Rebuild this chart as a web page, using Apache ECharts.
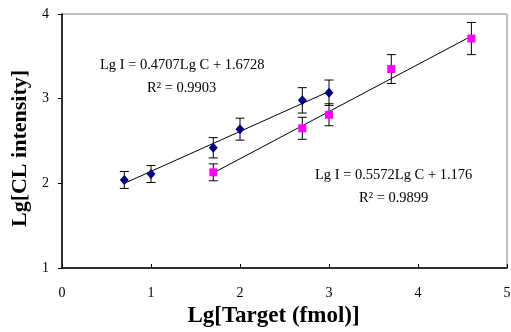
<!DOCTYPE html>
<html>
<head>
<meta charset="utf-8">
<script src="https://cdn.jsdelivr.net/npm/echarts@6/dist/echarts.min.js"></script>
<style>
  html, body { margin: 0; padding: 0; background: #fff; }
  #chart { width: 511px; height: 332px; }
</style>
</head>
<body>
<div id="chart"></div>
<script>
// probe A (blue diamonds)
const xA = [0.7, 1.0, 1.7, 2.0, 2.7, 3.0];
const yA = [2.04, 2.11, 2.42, 2.64, 2.98, 3.07];
const errA = [0.1, 0.1, 0.12, 0.13, 0.15, 0.15];
const fitA = [[0.7, 2.0], [3.0, 3.085]];

// probe B (magenta squares)
const xB = [1.7, 2.7, 3.0, 3.7, 4.6];
const yB = [2.13, 2.65, 2.81, 3.35, 3.71];
const errB = [0.1, 0.13, 0.13, 0.17, 0.19];
const fitB = [[1.7, 2.123], [4.6, 3.739]];

const eqA = ['Lg I = 0.4707Lg C + 1.6728', 'R² = 0.9903'];
const eqB = ['Lg I = 0.5572Lg C + 1.176', 'R² = 0.9899'];

const font = '"Liberation Serif", "Times New Roman", serif';

const chart = echarts.init(document.getElementById('chart'));

function pts(xs, ys) {
  return xs.map((x, i) => [x, ys[i]]);
}
function errData(xs, ys, es) {
  return xs.map((x, i) => [x, ys[i] - es[i], ys[i] + es[i]]);
}
function renderErr(params, api) {
  const x = api.value(0);
  const lo = api.coord([x, api.value(1)]);
  const hi = api.coord([x, api.value(2)]);
  const w = 4.5;
  const style = { stroke: '#000', lineWidth: 1 };
  return {
    type: 'group',
    children: [
      { type: 'line', shape: { x1: lo[0], y1: lo[1], x2: hi[0], y2: hi[1] }, style },
      { type: 'line', shape: { x1: lo[0] - w, y1: lo[1], x2: lo[0] + w, y2: lo[1] }, style },
      { type: 'line', shape: { x1: hi[0] - w, y1: hi[1], x2: hi[0] + w, y2: hi[1] }, style }
    ]
  };
}

const option = {
  animation: false,
  backgroundColor: '#fff',
  grid: {
    left: 62, right: 4, top: 14, bottom: 64,
    outerBoundsMode: 'none',
    show: true, borderColor: '#808080', borderWidth: 1
  },
  xAxis: {
    type: 'value', min: 0, max: 5, interval: 1,
    name: 'Lg[Target (fmol)]', nameLocation: 'middle', nameGap: 36,
    nameTextStyle: { fontFamily: font, fontWeight: 'bold', fontSize: 23, color: '#000', padding: [0, 22, 0, 0] },
    axisLine: { lineStyle: { color: '#000', width: 1.5 } },
    axisTick: { inside: true, length: 4, lineStyle: { color: '#000' } },
    axisLabel: { margin: 18, fontFamily: font, fontSize: 14, color: '#000' },
    splitLine: { show: false }
  },
  yAxis: {
    type: 'value', min: 1, max: 4, interval: 1,
    name: 'Lg[CL intensity]', nameLocation: 'middle', nameGap: 26, nameRotate: 90,
    nameTextStyle: { fontFamily: font, fontWeight: 'bold', fontSize: 22, color: '#000', padding: [0, 15, 0, 0] },
    axisLine: { show: true, lineStyle: { color: '#000', width: 1.5 } },
    axisTick: { show: true, inside: false, length: 4, lineStyle: { color: '#000' } },
    axisLabel: { margin: 13, fontFamily: font, fontSize: 14, color: '#000' },
    splitLine: { show: false }
  },
  series: [
    { type: 'custom', renderItem: renderErr, data: errData(xA, yA, errA), z: 1, encode: { x: 0, y: [1, 2] } },
    { type: 'custom', renderItem: renderErr, data: errData(xB, yB, errB), z: 1, encode: { x: 0, y: [1, 2] } },
    { type: 'line', data: fitA, symbol: 'none', lineStyle: { color: '#000', width: 1 }, z: 2 },
    { type: 'line', data: fitB, symbol: 'none', lineStyle: { color: '#000', width: 1 }, z: 2 },
    { type: 'scatter', data: pts(xA, yA), symbol: 'diamond', symbolSize: [9, 10],
      itemStyle: { color: '#000080', opacity: 1 }, z: 3 },
    { type: 'scatter', data: pts(xB, yB), symbol: 'rect', symbolSize: 8,
      itemStyle: { color: '#ff00ff', opacity: 1 }, z: 3 }
  ],
  graphic: [
    { type: 'text', left: 100, top: 58, style: { text: eqA[0], fontFamily: font, fontSize: 14.5, fill: '#000' } },
    { type: 'text', left: 147, top: 81, style: { text: eqA[1], fontFamily: font, fontSize: 14.5, fill: '#000' } },
    { type: 'text', left: 315, top: 168, style: { text: eqB[0], fontFamily: font, fontSize: 14.5, fill: '#000' } },
    { type: 'text', left: 359, top: 191, style: { text: eqB[1], fontFamily: font, fontSize: 14.5, fill: '#000' } }
  ]
};

chart.setOption(option);
</script>
</body>
</html>
